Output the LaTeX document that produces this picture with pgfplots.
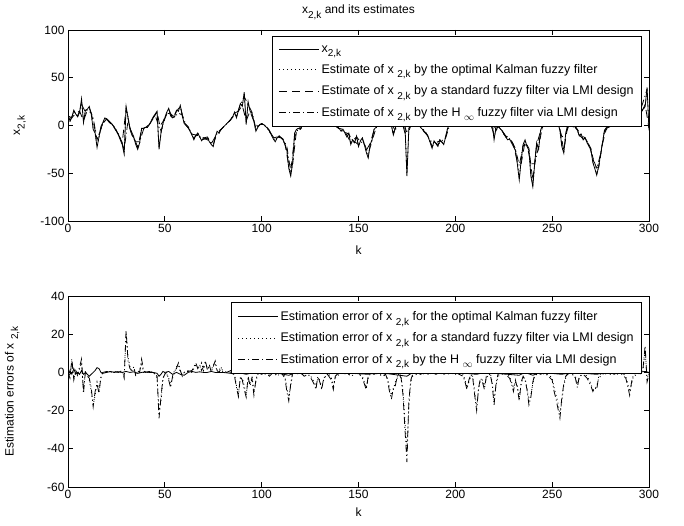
\documentclass[border=0pt]{standalone}
\usepackage{fontspec}
\setmainfont{Liberation Sans}
\usepackage{pgfplots}
\usepackage{pgfplotstable}
\pgfplotsset{compat=1.18}
\newcommand{\sbs}[1]{\raisebox{-0.7ex}{\fontsize{10}{10}\selectfont #1}}
\newcommand{\fs}{\fontsize{12}{14}\selectfont}
\newcommand{\lfs}{\fontsize{12.5}{14}\selectfont}

% x_{2,k}
\pgfplotstableread{
k v
0 12
1 5
2 9
3 16
4 12
5 9
6 14
7 28
8 3
9 16
10 17
11 20
12 12
13 -4
14 -8
15 -23
16 -12
17 -1
18 3
19 8
20 7
21 4
22 2
23 1
24 -3
25 -6
26 -10
27 -15
28 -20
29 -30
30 20
31 8
32 -4
33 -10
34 -13
35 -20
36 -25
37 -18
38 -3
39 -3
40 -2
41 -2
42 1
43 5
44 9
45 12
46 15
47 -25
48 -8
49 2
50 8
51 14
52 18
53 10
54 8
55 9
56 16
57 15
58 21
59 10
60 2
61 0
62 -2
63 -6
64 -10
65 -15
66 -10
67 -8
68 -12
69 -16
70 -13
71 -14
72 -13
73 -17
74 -20
75 -22
76 -12
77 -6
78 -8
79 -4
80 -2
81 0
82 2
83 4
84 6
85 9
86 14
87 8
88 16
89 23
90 20
91 35
92 1
93 25
94 15
95 13
96 4
97 -6
98 -2
99 1
100 2
101 1
102 -1
103 -3
104 -6
105 -10
106 -14
107 -17
108 -13
109 -11
110 -13
111 -15
112 -20
113 -26
114 -45
115 -53
116 -39
117 -8
118 -4
119 -3
120 -4
122 4
124 8
126 3
128 10
130 6
132 2
134 7
136 3
138 0
140 -3
141 -6
142 -4
143 -8
144 -12
145 -8
146 -20
147 -15
148 -18
149 -11
150 -22
151 -16
152 -13
153 -20
154 -28
155 -34
156 -20
157 -15
158 -4
159 -2
160 2
162 6
164 3
166 5
167 0
168 -10
169 -3
170 4
172 8
174 0
175 -53
176 -3
177 2
178 8
180 5
182 -2
183 -4
184 -7
185 -9
186 -12
187 -18
188 -24
189 -16
190 -19
191 -22
192 -15
193 -17
194 -20
195 -12
196 -3
197 1
199 6
201 10
203 4
205 8
207 12
209 5
211 9
213 3
215 7
217 2
219 4
220 -15
221 -2
222 0
223 -3
224 -5
225 -9
226 -12
227 -15
228 -14
229 -18
230 -22
231 -26
232 -40
233 -57
234 -36
235 -20
236 -15
237 -22
238 -26
239 -53
240 -64
241 -39
242 -18
243 -25
244 -5
245 0
247 5
249 8
251 3
253 2
254 -5
255 -22
256 -29
257 -8
258 0
260 4
262 -2
263 -5
264 -11
265 -9
266 -15
267 -13
268 -18
269 -22
270 -25
271 -39
272 -45
273 -52
274 -43
275 -30
276 -18
277 -5
278 -2
280 -1
282 6
284 10
286 4
288 8
290 12
292 6
294 10
296 15
298 20
299 40
300 -5
}\xtrue

% estimate, optimal Kalman fuzzy filter
\pgfplotstableread{
k v
0 11
1 6
2 9
3 15
4 12
5 10
6 13
7 26
8 5
9 15
10 17
11 19
12 12
13 -3
14 -7
15 -21
16 -13
17 -2
18 2
19 7
20 7
21 4
22 3
23 1
24 -2
25 -6
26 -9
27 -14
28 -19
29 -28
30 18
31 9
32 -3
33 -9
34 -13
35 -19
36 -24
37 -19
38 -4
39 -3
40 -2
41 -1
42 1
43 4
44 9
45 11
46 14
47 -23
48 -9
49 1
50 8
51 13
52 17
53 11
54 8
55 9
56 15
57 15
58 20
59 11
60 3
61 0
62 -2
63 -5
64 -10
65 -14
66 -11
67 -8
68 -11
69 -15
70 -13
71 -14
72 -13
73 -16
74 -19
75 -21
76 -13
77 -7
78 -8
79 -4
80 -2
81 0
82 2
83 4
84 6
85 9
86 13
87 9
88 15
89 22
90 21
91 33
92 3
93 24
94 15
95 12
96 5
97 -5
98 -2
99 1
100 2
101 1
102 -1
103 -3
104 -6
105 -10
106 -13
107 -16
108 -13
109 -11
110 -13
111 -15
112 -19
113 -25
114 -43
115 -51
116 -40
117 -9
118 -4
119 -3
120 -4
124 8
128 10
132 2
136 3
140 -3
141 -5
142 -4
143 -8
144 -11
145 -9
146 -19
147 -15
148 -17
149 -12
150 -21
151 -16
152 -13
153 -19
154 -27
155 -33
156 -21
157 -14
158 -4
159 -2
160 2
164 3
167 0
168 -9
169 -3
170 4
172 8
174 0
175 -51
176 -4
177 2
178 8
182 -2
183 -4
184 -7
185 -9
186 -12
187 -17
188 -23
189 -17
190 -19
191 -21
192 -15
193 -17
194 -19
195 -12
196 -3
197 1
201 10
205 8
209 5
213 3
217 2
219 4
220 -14
221 -2
222 0
223 -3
224 -5
225 -9
226 -12
227 -14
228 -14
229 -18
230 -21
231 -26
232 -39
233 -55
234 -37
235 -20
236 -16
237 -21
238 -26
239 -51
240 -62
241 -40
242 -19
243 -24
244 -6
245 0
249 8
253 2
254 -5
255 -21
256 -28
257 -9
258 0
262 -2
263 -5
264 -10
265 -9
266 -14
267 -13
268 -18
269 -21
270 -25
271 -38
272 -44
273 -51
274 -43
275 -31
276 -18
277 -6
278 -2
280 -1
284 10
288 8
292 6
296 15
298 19
299 38
300 -4
}\estone

% estimate, standard fuzzy filter via LMI design
\pgfplotstableread{
k v
0 10
2 8
4 13
6 15
8 5
10 16
12 13
14 -5
16 -10
18 2
20 7
22 3
24 -2
26 -9
28 -18
30 18
32 -3
34 -12
36 -23
38 -4
40 -2
42 1
44 8
46 14
48 -6
50 7
52 17
54 8
56 15
58 20
60 3
62 -1
64 -9
66 -10
68 -11
70 -13
72 -12
74 -19
76 -12
78 -7
80 -2
82 2
84 6
86 13
88 15
90 21
92 5
94 15
96 4
98 -1
100 2
102 0
104 -5
106 -13
108 -12
110 -13
112 -19
114 -42
116 -40
118 -5
120 -3
122 4
124 7
126 3
128 9
130 6
132 2
134 6
136 3
138 0
140 -3
142 -4
144 -10
146 -18
148 -17
150 -20
152 -14
154 -26
156 -19
158 -5
160 1
162 5
164 3
166 4
168 -8
170 3
172 7
174 -8
176 -6
178 6
180 5
182 -2
184 -6
186 -11
188 -22
190 -18
192 -16
194 -19
196 -4
198 3
200 8
202 7
204 5
206 9
208 8
210 6
212 5
214 4
216 5
218 3
220 -10
222 -1
224 -5
226 -11
228 -13
230 -20
232 -38
234 -40
236 -17
238 -24
240 -58
242 -20
244 -6
246 2
248 6
250 5
252 3
254 -4
256 -26
258 -1
260 3
262 -2
264 -10
266 -14
268 -17
270 -24
272 -43
274 -44
276 -19
278 -3
280 -1
282 5
284 9
286 5
288 7
290 10
292 7
294 9
296 13
298 22
300 -3
}\esttwo

% estimate, H-infinity fuzzy filter via LMI design
\pgfplotstableread{
k v
1 4
3 14
5 10
7 22
9 14
11 18
13 8
15 -15
17 -3
19 7
21 5
23 1
25 -5
27 -13
29 -25
31 5
33 -9
35 -17
37 -17
39 -4
41 -2
43 4
45 11
47 -2
49 4
51 13
53 12
55 9
57 13
59 11
61 0
63 -5
65 -13
67 -9
69 -15
71 -14
73 -16
75 -20
77 -8
79 -4
81 0
83 4
85 9
87 10
89 22
91 30
93 22
95 14
97 -3
99 1
101 1
103 -3
105 -9
107 -15
109 -11
111 -14
113 -22
115 -48
117 -12
119 -3
121 2
123 6
125 5
127 7
129 8
131 4
133 5
135 5
137 1
139 -2
141 -5
143 -7
145 -9
147 -16
149 -12
151 -17
153 -19
155 -30
157 -16
159 -3
161 4
163 5
165 4
167 1
169 -5
171 5
173 5
175 -8
177 0
179 7
181 2
183 -3
185 -8
187 -16
189 -17
191 -20
193 -16
195 -13
197 0
199 5
201 9
203 5
205 7
207 10
209 6
211 8
213 4
215 6
217 3
219 3
221 -4
223 -3
225 -8
227 -14
229 -16
231 -24
233 -42
235 -21
237 -20
239 -40
241 -40
243 -22
245 -1
247 4
249 7
251 4
253 3
255 -12
257 -9
259 2
261 2
263 -4
265 -10
267 -13
269 -20
271 -34
273 -45
275 -30
277 -6
279 -2
281 3
283 8
285 6
287 6
289 10
291 9
293 8
295 12
297 25
299 38
}\estthree

% estimation error, optimal Kalman fuzzy filter
\pgfplotstableread{
k v
0 -2
1 1
2 -1
3 2
4 -1
5 0
6 -1
7 1
8 -1
9 0
10 -1
11 -2
12 -1
13 0
14 1
15 2.5
16 2
17 0
18 -0.5
20 0
22 0.5
24 0
26 0.3
28 0
30 0.5
32 0
34 0.3
36 -0.5
38 0
40 0.3
42 0
44 0
46 -0.5
47 -2
48 -1
49 0.5
50 0
52 0.5
54 -1
56 0
58 -1
60 -1.5
62 0
64 0.5
66 0
68 0.3
70 0
72 0
74 0.5
76 0
78 0
80 0
84 -0.5
88 0
92 -1
96 0
100 -0.5
106 0
114 -1.5
118 0
130 -0.5
140 0
155 -1
160 0
175 -2
178 0
190 -0.5
200 0
211 -1
215 0
233 -1.5
236 0
240 -1.5
244 0
255 -1
260 0
273 -1
278 0
290 -0.5
298 0.5
300 0
}\errone

% estimation error, standard fuzzy filter via LMI design
\pgfplotstableread{
k v
0 1
1 -2
2 6
3 -3
4 0
5 -2
6 2
7 5
8 -9
9 0
10 -1
11 -4
12 -10
13 -17
14 -12
15 -5
16 -9
17 -3
18 0
20 0
22 0.5
24 0
26 0.5
28 0
29 -2
30 20
31 8
32 3
33 0
34 2
35 -1
36 0
37 1
38 5
39 0
40 0
42 0
44 0.5
46 -3
47 -20
48 -15
49 -4
50 0
51 -1
52 -3
53 -6
54 -3
55 0
56 3
57 4
58 0
59 -1
60 0
62 1
64 0
66 4
67 3
68 2
69 5
70 1
71 5
72 2
73 3
74 1
75 4
76 5
77 0
78 1
79 3
80 0
82 0
84 0
86 -1
87 -7
88 -11
89 -3
90 -3
91 -7
92 -12
93 -4
94 -6
95 -2
96 -10
97 -5
98 -1
100 0
102 -1
104 -1
106 0
108 -2
110 0
112 -2
113 -8
114 -13
115 -7
116 -1
118 0
120 -1
122 -1
124 0
126 -3
127 -5
128 -7
129 -3
130 -4
131 -8
132 -4
134 0
136 -3
137 -7
138 -3
140 -1
142 0
144 -1
146 -1
148 0
150 -1
152 -2
153 -5
154 -8
155 -3
156 -1
158 0
160 -1
162 -1
164 -2
165 -3
166 -8
167 -12
168 -9
169 -5
170 -3
171 0
172 -2
173 -10
174 -26
175 -40
176 -18
177 -5
178 -2
180 -1
182 0
184 -1
186 0
188 -1
190 0
192 -1
194 0
196 -1
198 0
200 -1
202 0
204 -1
205 -4
206 -8
207 -5
208 -2
209 -2
210 -10
211 -18
212 -9
213 -4
214 -4
215 -7
216 -3
218 0
219 -5
220 -14
221 -7
222 -2
224 -1
226 0
228 -2
229 -5
230 -8
231 -5
232 -7
233 -13
234 -6
235 -3
236 -3
237 -8
238 -15
239 -12
240 -6
241 -2
242 -1
244 0
246 -1
248 -1
250 -3
251 -8
252 -12
253 -16
254 -22
255 -15
256 -7
257 -3
258 0
260 -1
262 -2
263 -6
264 -3
266 0
268 -2
269 -4
270 -6
271 -9
272 -9
273 -7
274 -3
276 -1
278 0
280 -1
282 0
284 -1
286 0
288 -2
289 -6
290 -10
291 -6
292 -2
294 -1
296 0
297 2
298 12
299 -4
300 0
}\errtwo

% estimation error, H-infinity fuzzy filter via LMI design
\pgfplotstableread{
k v
0 0
1 -3
2 7
3 -4
4 1
5 -1
6 3
7 7
8 -11
9 1
10 -2
11 -3
12 -8
13 -18
14 -10
15 -6
16 -11
17 -2
18 0
20 0.5
22 0
24 0.5
26 0
28 1
29 -3
30 22
31 6
32 2
33 1
34 3
35 -2
36 1
37 0
38 7
39 1
40 0
42 0.5
44 0
46 -2
47 -24
48 -13
49 -3
50 -1
51 0
52 -4
53 -8
54 -2
55 1
56 2
57 5
58 1
59 -2
60 0
62 0.5
64 1
66 5
67 2
68 4
69 1
70 3
71 6
72 1
73 4
74 0
75 3
76 6
77 1
78 0
79 2
80 1
82 0
84 1
86 -2
87 -8
88 -12.7
89 -2
90 -4
91 -9
92 -13
93 -2
94 -7
95 -3
96 -12
97 -4
98 0
100 -1
102 0
104 -2
106 0
108 -1
110 0
112 -3
113 -10
114 -15
115 -6
116 0
118 -1
120 0
122 -2
124 -1
126 -4
127 -6
128 -9
129 -2
130 -5
131 -9
132 -3
134 -1
136 -4
137 -9
138 -2
140 0
142 -1
144 0
146 -2
148 -1
150 0
152 -3
153 -6
154 -9
155 -2
156 0
158 -1
160 0
162 -2
164 -1
165 -4
166 -10
167 -14
168 -8
169 -7
170 -2
171 -1
172 -3
173 -12
174 -30
175 -47
176 -15
177 -4
178 -1
180 0
182 -1
184 0
186 -1
188 0
190 -1
192 0
194 -1
196 0
198 -1
200 0
202 -1
204 -2
205 -5
206 -9
207 -4
208 -1
209 -3
210 -12
211 -20
212 -8
213 -3
214 -5
215 -9
216 -2
218 -1
219 -6
220 -17
221 -6
222 -1
224 0
226 -1
228 -3
229 -6
230 -10
231 -4
232 -8
233 -15
234 -5
235 -2
236 -4
237 -9
238 -17
239 -13
240 -5
241 -1
242 0
244 -1
246 0
248 -2
250 -4
251 -10
252 -14
253 -19
254 -24
255 -13
256 -6
257 -2
258 -1
260 0
262 -3
263 -8
264 -2
266 -1
268 -3
269 -5
270 -7
271 -10
272 -8
273 -9
274 -2
276 0
278 -1
280 0
282 -1
284 0
286 -1
288 -3
289 -7
290 -12
291 -5
292 -1
294 0
296 -1
297 3
298 14
299 -5
300 -1
}\errthree

\pgfplotsset{
  myax/.style={
    scale only axis, width=581pt, height=191pt, anchor=south west,
    xmin=0, xmax=300, xtick={0,50,...,300},
    tick align=inside, major tick length=5pt,
    axis line style={line width=0.8pt},
    every tick/.style={black, line width=0.8pt},
    tick label style={font=\fs},
    label style={font=\fs},
    /pgf/number format/assume math mode=true,
    legend cell align=left,
    legend style={font=\lfs, draw=black, line width=0.8pt, fill=white,
      inner xsep=6pt, inner ysep=7pt, row sep=6.8pt},
    legend image code/.code={\draw[#1] (0pt,0pt) -- (40pt,0pt);},
    ylabel style={anchor=center},
    xlabel style={anchor=center},
  },
  sol/.style={black, line width=0.8pt, solid},
  dot/.style={black, line width=0.8pt, dash pattern=on 1pt off 3pt},
  dsh/.style={black, line width=0.8pt, dash pattern=on 8pt off 5pt},
  dsd/.style={black, line width=0.8pt, dash pattern=on 7pt off 3pt on 1pt off 3pt},
}

\begin{document}
\begin{tikzpicture}
\path[use as bounding box] (0,0) rectangle (684pt,525pt);
\begin{axis}[myax, at={(68pt,304pt)},
  ymin=-100, ymax=100, ytick={-100,-50,...,100},
  ylabel={x\sbs{2,k}}, xlabel={k},
  ylabel style={at={(axis description cs:-0.083,0.5)}},
  xlabel style={at={(axis description cs:0.5,-0.152)}},
  title={x\sbs{2,k} and its estimates},
  title style={font=\fs, at={(axis description cs:0.5,1)}, anchor=south, yshift=1pt},
  legend style={at={(0.988,0.9686)}, anchor=north east},
]
\addplot[sol] table {\xtrue};
\addlegendentry{x\sbs{2,k}}
\addplot[dot] table {\estone};
\addlegendentry{Estimate of x \sbs{2,k} by the optimal Kalman fuzzy filter}
\addplot[dsh] table {\esttwo};
\addlegendentry{Estimate of x \sbs{2,k} by a standard fuzzy filter via LMI design}
\addplot[dsd] table {\estthree};
\addlegendentry{Estimate of x \sbs{2,k} by the H \sbs{$\infty$} fuzzy filter via LMI design}
\end{axis}

\begin{axis}[myax, at={(68pt,38pt)},
  ymin=-60, ymax=40, ytick={-60,-40,...,40},
  ylabel={Estimation errors of x \sbs{2,k}}, xlabel={k},
  ylabel style={at={(axis description cs:-0.096,0.5)}},
  xlabel style={at={(axis description cs:0.5,-0.131)}},
  legend style={at={(0.988,0.9686)}, anchor=north east},
]
\addplot[sol] table {\errone};
\addlegendentry{Estimation error of x \sbs{2,k} for the optimal Kalman fuzzy filter}
\addplot[dot] table {\errtwo};
\addlegendentry{Estimation error of x \sbs{2,k} for a standard fuzzy filter via LMI design}
\addplot[dsd] table {\errthree};
\addlegendentry{Estimation error of x \sbs{2,k} by the H \sbs{$\infty$} fuzzy filter via LMI design}
\end{axis}
\end{tikzpicture}
\end{document}
